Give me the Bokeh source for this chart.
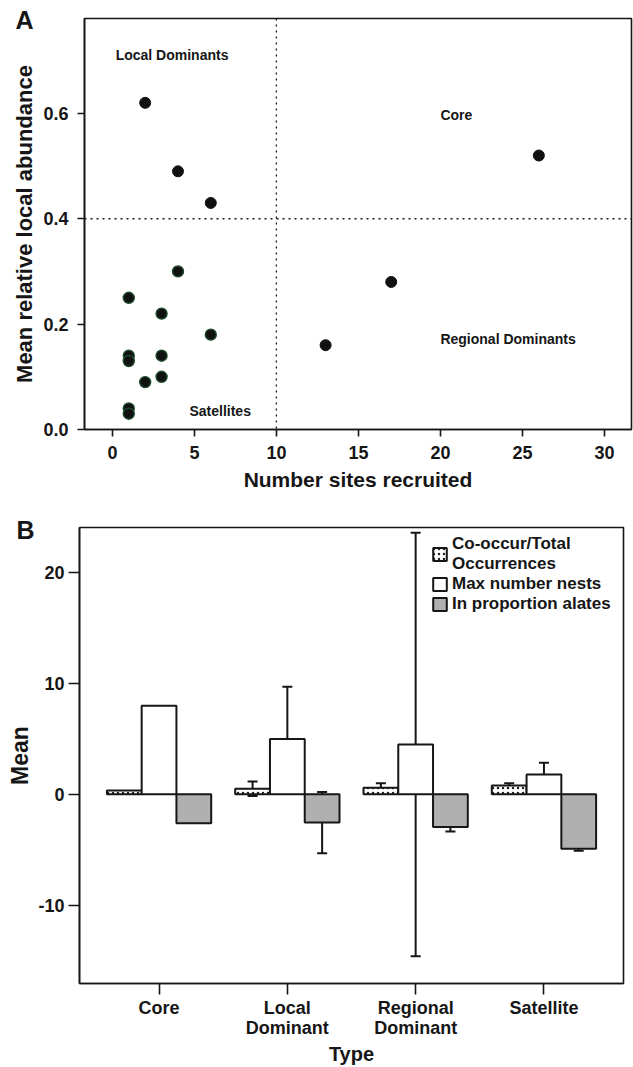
from bokeh.plotting import figure
from bokeh.models import (ColumnDataSource, FixedTicker, Label, Span, Whisker, TeeHead,
                          Legend, LegendItem, Range1d, NumeralTickFormatter, Title)
from bokeh.layouts import column
from bokeh.embed import file_html
from bokeh.resources import INLINE

FONT = "Liberation Sans"
INK = "#161616"

# ---------------- Panel A data ----------------
local_x = [2, 4, 6]
local_y = [0.62, 0.49, 0.43]
core_x = [26]
core_y = [0.52]
regional_x = [13, 17]
regional_y = [0.16, 0.28]
sat_x = [1, 4, 3, 6, 1, 1, 3, 2, 3, 1, 1]
sat_y = [0.25, 0.30, 0.22, 0.18, 0.14, 0.13, 0.14, 0.09, 0.10, 0.04, 0.03]
x_ticks_a = [0, 5, 10, 15, 20, 25, 30]
y_ticks_a = [0.0, 0.2, 0.4, 0.6]
quad_labels = ["Local Dominants", "Core", "Regional Dominants", "Satellites"]
quad_label_x = [0.2, 20.0, 20.0, 4.7]
quad_label_y = [0.71, 0.596, 0.171, 0.036]
split_x = 10
split_y = 0.4

# ---------------- Panel B data ----------------
types = ["Core", "Local\nDominant", "Regional\nDominant", "Satellite"]
series_names = ["Co-occur/Total\nOccurrences", "Max number nests", "In proportion alates"]
cooccur = [0.35, 0.5, 0.6, 0.8]
cooccur_err = [0.0, 0.65, 0.4, 0.2]
maxnests = [8.0, 5.0, 4.5, 1.8]
maxnests_err = [0.0, 4.7, 19.1, 1.05]
alates = [-2.6, -2.55, -2.95, -4.9]
alates_err = [0.0, 2.77, 0.4, 0.2]
y_ticks_b = [-10, 0, 10, 20]


def style_axes(p, tick_out, font_size, xlabel_size, ylabel_size):
    p.outline_line_color = INK
    p.outline_line_width = 1.6
    p.xgrid.visible = False
    p.ygrid.visible = False
    for ax, ls in ((p.xaxis[0], xlabel_size), (p.yaxis[0], ylabel_size)):
        ax.axis_line_color = INK
        ax.axis_line_width = 1.6
        ax.major_tick_line_color = INK
        ax.major_tick_line_width = 1.6
        ax.major_tick_in = 0
        ax.major_tick_out = tick_out
        ax.minor_tick_line_color = None
        ax.major_label_text_font = FONT
        ax.major_label_text_font_style = "bold"
        ax.major_label_text_font_size = font_size
        ax.major_label_text_color = INK
        ax.axis_label_text_font = FONT
        ax.axis_label_text_font_style = "bold"
        ax.axis_label_text_font_size = ls
        ax.axis_label_text_color = INK


def panel_letter(p, letter, offset, standoff):
    t = Title(text=letter, align="left", offset=offset, standoff=standoff,
              text_font=FONT, text_font_style="bold", text_font_size="25px",
              text_color=INK)
    p.add_layout(t, "above")


def unalign(p):
    if "frame_align" in p.properties():
        p.frame_align = False


# ================= Panel A =================
pa = figure(width=633, height=500, x_range=Range1d(-1.7, 31.65), y_range=Range1d(0, 0.78),
            output_backend="svg", toolbar_location=None,
            min_border_left=84, min_border_right=2, min_border_top=18, min_border_bottom=71,
            background_fill_color="white", border_fill_color="white")
unalign(pa)
style_axes(pa, 7, "18px", "21px", "22px")
pa.xaxis.ticker = FixedTicker(ticks=x_ticks_a)
pa.yaxis.ticker = FixedTicker(ticks=y_ticks_a)
pa.yaxis.formatter = NumeralTickFormatter(format="0.0")
pa.xaxis.axis_label = "Number sites recruited"
pa.yaxis.axis_label = "Mean relative local abundance"
pa.xaxis.major_label_standoff = 9
pa.yaxis.major_label_standoff = 9
pa.xaxis.axis_label_standoff = 6
pa.yaxis.axis_label_standoff = 3
panel_letter(pa, "A", -69, -30)

pa.add_layout(Span(location=split_x, dimension="height", line_color=INK, line_width=1.3, line_dash="2 4"))
pa.add_layout(Span(location=split_y, dimension="width", line_color=INK, line_width=1.3, line_dash="2 4"))

pa.scatter(local_x + core_x + regional_x, local_y + core_y + regional_y, size=11,
           fill_color="#111111", line_color="#111111", line_width=1)
pa.scatter(sat_x, sat_y, size=11, fill_color="#111111", line_color="#1d4a2c", line_width=1.4)

for t, x, y in zip(quad_labels, quad_label_x, quad_label_y):
    pa.add_layout(Label(x=x, y=y, text=t, text_font=FONT, text_font_style="bold",
                        text_font_size="14px", text_color=INK, text_baseline="middle"))

# ================= Panel B =================
pb = figure(width=633, height=567, x_range=Range1d(0.38, 4.62), y_range=Range1d(-17.07, 24.08),
            output_backend="svg", toolbar_location=None,
            min_border_left=79, min_border_right=10, min_border_top=27, min_border_bottom=82,
            background_fill_color="white", border_fill_color="white")
unalign(pb)
style_axes(pb, 11, "18px", "20px", "23px")
pos = list(range(1, len(types) + 1))
pb.xaxis.ticker = FixedTicker(ticks=pos)
pb.xaxis.major_label_overrides = {p: t for p, t in zip(pos, types)}
pb.xaxis.major_label_text_line_height = 1.0
pb.yaxis.ticker = FixedTicker(ticks=y_ticks_b)
pb.yaxis.major_label_overrides = {t: str(t) for t in y_ticks_b}
pb.xaxis.axis_label = "Type"
pb.yaxis.axis_label = "Mean"
pb.xaxis.major_label_standoff = 3
pb.yaxis.major_label_standoff = 4
pb.xaxis.axis_label_standoff = 2
pb.yaxis.axis_label_standoff = 2
panel_letter(pb, "B", -63, -32)

bw = 0.271
offsets = [-bw, 0.0, bw]
values = [cooccur, maxnests, alates]
errors = [cooccur_err, maxnests_err, alates_err]
styles = [
    dict(fill_color="white", hatch_pattern="dot", hatch_scale=5, hatch_color="#222222", hatch_weight=1.0),
    dict(fill_color="white"),
    dict(fill_color="#b0b0b0"),
]

renderers = []
for off, vals, st in zip(offsets, values, styles):
    src = ColumnDataSource(dict(x=[p + off for p in pos], top=vals, bottom=[0] * len(vals)))
    r = pb.vbar(x="x", top="top", bottom="bottom", width=bw, source=src,
                line_color=INK, line_width=2, **st)
    renderers.append(r)

for off, vals, errs in zip(offsets, values, errors):
    xs, up, lo = [], [], []
    for p, v, e in zip(pos, vals, errs):
        if e > 0:
            xs.append(p + off)
            up.append(v + e)
            lo.append(v - e)
    esrc = ColumnDataSource(dict(base=xs, upper=up, lower=lo))
    pb.add_layout(Whisker(source=esrc, base="base", upper="upper", lower="lower",
                          line_color=INK, line_width=2,
                          upper_head=TeeHead(size=10, line_color=INK, line_width=2),
                          lower_head=TeeHead(size=10, line_color=INK, line_width=2)))

legend = Legend(items=[LegendItem(label=n, renderers=[r]) for n, r in zip(series_names, renderers)],
                location=(352, 369), orientation="vertical",
                label_text_font=FONT, label_text_font_style="bold", label_text_font_size="17px",
                label_text_color=INK, glyph_width=17, glyph_height=16, label_standoff=4,
                spacing=-5, padding=0, margin=0, border_line_color=None,
                background_fill_alpha=0, label_height=16, label_text_line_height=0.75)
pb.add_layout(legend)

layout = column(pa, pb, spacing=0)
open("out.html", "w").write(file_html(layout, INLINE))
